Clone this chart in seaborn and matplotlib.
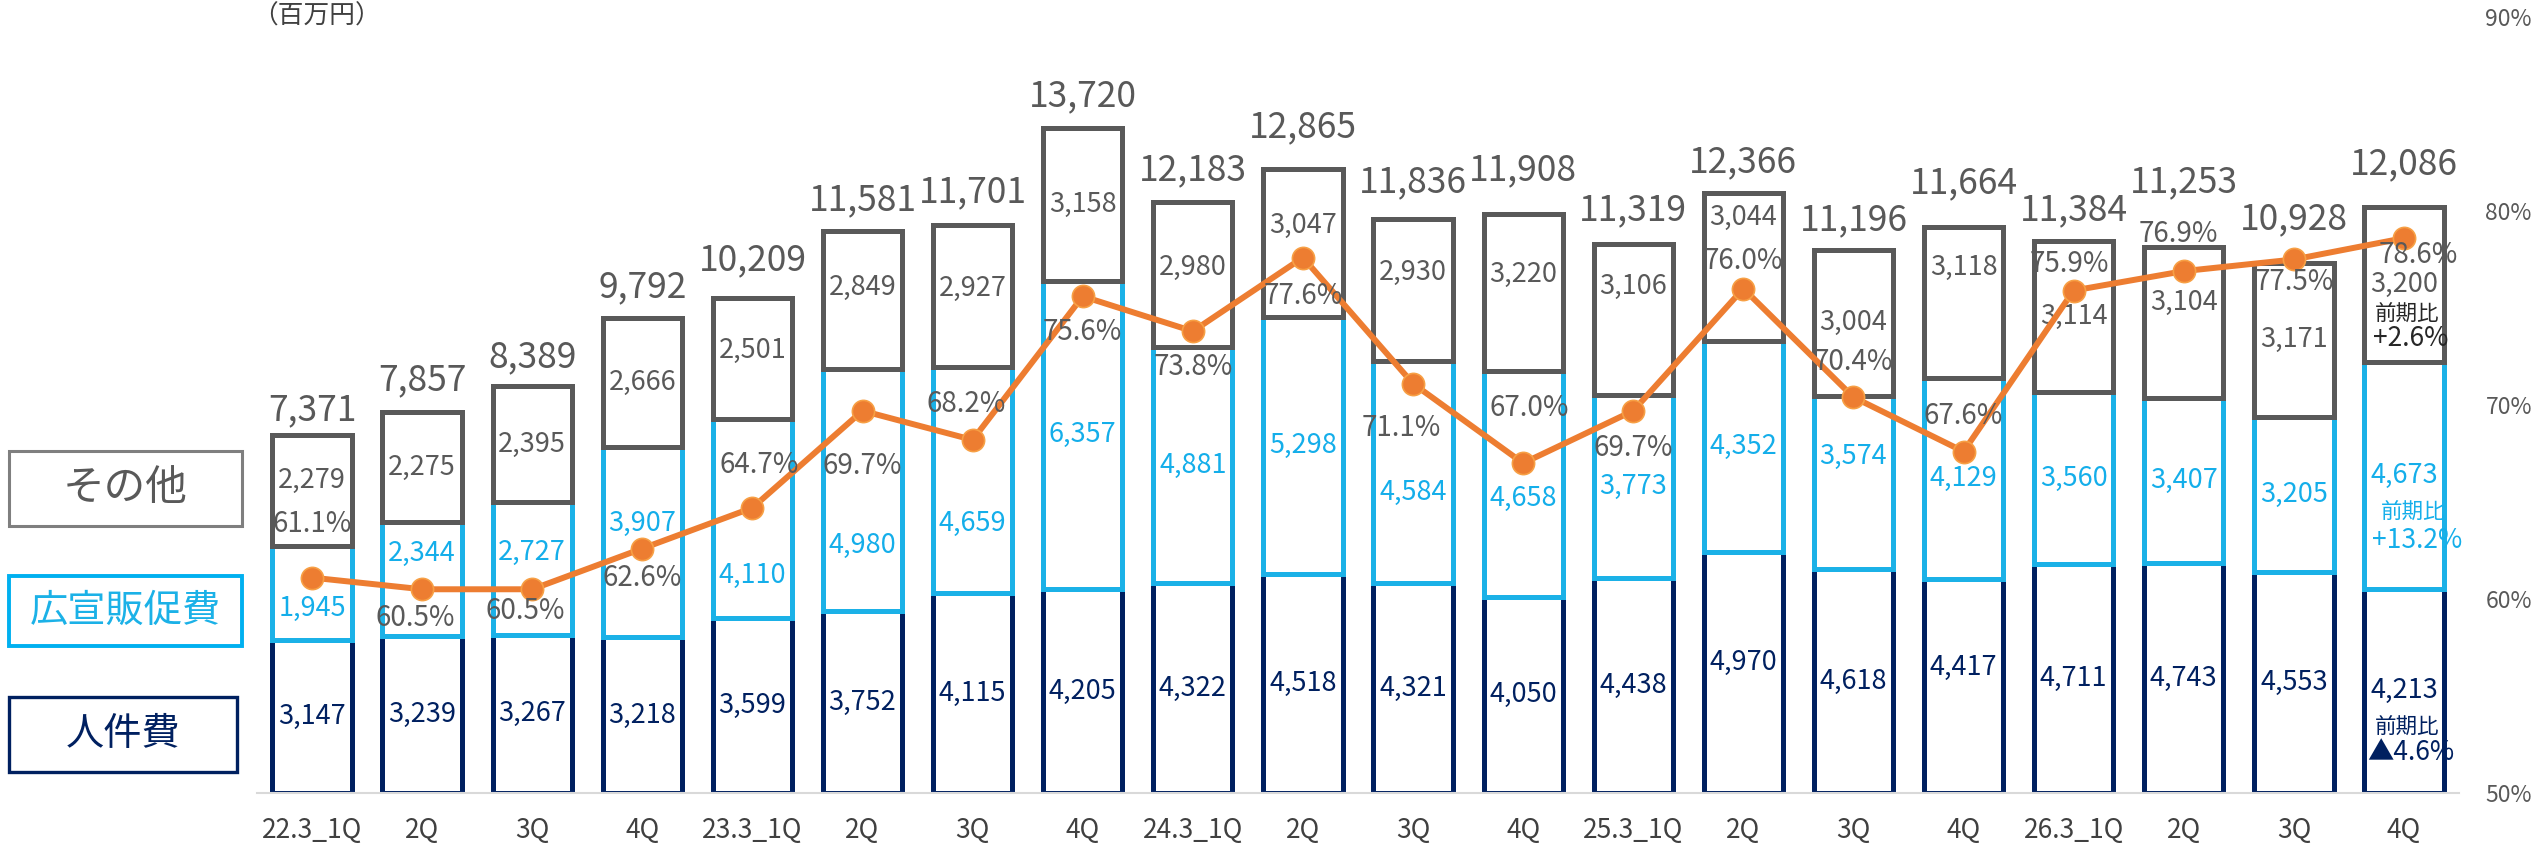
import numpy as np
import pandas as pd
import matplotlib
matplotlib.use("Agg")
import matplotlib.pyplot as plt
from matplotlib.patches import Rectangle
import seaborn as sns

# data (百万円)
periods = ["22.3_1Q", "22.3_2Q", "22.3_3Q", "22.3_4Q",
           "23.3_1Q", "23.3_2Q", "23.3_3Q", "23.3_4Q",
           "24.3_1Q", "24.3_2Q", "24.3_3Q", "24.3_4Q",
           "25.3_1Q", "25.3_2Q", "25.3_3Q", "25.3_4Q",
           "26.3_1Q", "26.3_2Q", "26.3_3Q", "26.3_4Q"]
tick_labels = ["22.3_1Q", "2Q", "3Q", "4Q", "23.3_1Q", "2Q", "3Q", "4Q",
               "24.3_1Q", "2Q", "3Q", "4Q", "25.3_1Q", "2Q", "3Q", "4Q",
               "26.3_1Q", "2Q", "3Q", "4Q"]
personnel = [3147, 3239, 3267, 3218, 3599, 3752, 4115, 4205, 4322, 4518,
             4321, 4050, 4438, 4970, 4618, 4417, 4711, 4743, 4553, 4213]
promotion = [1945, 2344, 2727, 3907, 4110, 4980, 4659, 6357, 4881, 5298,
             4584, 4658, 3773, 4352, 3574, 4129, 3560, 3407, 3205, 4673]
other = [2279, 2275, 2395, 2666, 2501, 2849, 2927, 3158, 2980, 3047,
         2930, 3220, 3106, 3044, 3004, 3118, 3114, 3104, 3171, 3200]
totals = [7371, 7857, 8389, 9792, 10209, 11581, 11701, 13720, 12183, 12865,
          11836, 11908, 11319, 12366, 11196, 11664, 11384, 11253, 10928, 12086]
ratio = [61.1, 60.5, 60.5, 62.6, 64.7, 69.7, 68.2, 75.6, 73.8, 77.6,
         71.1, 67.0, 69.7, 76.0, 70.4, 67.6, 75.9, 76.9, 77.5, 78.6]
legend_labels = ["その他", "広宣販促費", "人件費"]
note_head = "前期比"
note_values = ["+2.6%", "+13.2%", "▲4.6%"]   # other, promotion, personnel
unit_label = "（百万円）"

# label nudges in pixels (up positive)
navy_shift = [0] * 13 + [10, 0, 18] + [0] * 4
blue_shift = [-15, 26, 16, 19, -57, -55, -43, 0, 0, 0,
              -20, -15, 0, 0, 26, 0, 0, 0, 0, 0]
gray_shift = [10, 0, 0, 0, 8, 13, 8, 0, 7, 18,
              18, 18, 33, 50, 0, 35, 0, 20, 0, 0]
total_gap = [22, 29, 26, 28, 35, 28, 30, 28, 29, 39,
             34, 42, 31, 28, 27, 41, 28, 62, 41, 40]
pct_dy = [54, -29, -22, -29, 43, -55, 36, -36, -36, -38,
          -44, 55, -37, 28, 35, 36, 27, 37, -23, -17]
pct_dx = [0, -7, -7, 0, 7, 0, -6, 0, 0, 0,
          -12, 6, 0, 0, 0, 0, -4, -5, 0, 14]

NAVY = "#002060"
BLUE = "#1BB1E7"
BLUE_TXT = "#14AEEA"
GRAY = "#595959"
ORANGE = "#ED7D31"

sns.set_theme(style="white")
plt.rcParams["font.family"] = ["Noto Sans CJK JP", "DejaVu Sans"]

df = pd.DataFrame({"period": periods, "personnel": personnel,
                   "promotion": promotion, "other": other})
df["promo_bottom"] = df["personnel"]
df["other_bottom"] = df["personnel"] + df["promotion"]

fig = plt.figure(figsize=(25.39, 8.49), dpi=100)
ax = fig.add_axes([0.1012, 0.066, 0.8673, 0.914])

layers = [("personnel", None, NAVY), ("promotion", "promo_bottom", BLUE),
          ("other", "other_bottom", GRAY)]
for col, bcol, c in layers:
    bottom = df[bcol].to_numpy() if bcol else np.zeros(len(df))
    sns.barplot(data=df, x="period", y=col, order=periods, ax=ax,
                color="white", saturation=1, edgecolor=c, linewidth=3.6,
                width=0.72, errorbar=None, bottom=bottom)

x = np.arange(len(periods))
px = dict(textcoords="offset pixels", ha="center", va="center")
SEG = 19.5

# segment labels
for i in range(len(periods)):
    ax.annotate(f"{personnel[i]:,}", (i, personnel[i] / 2), xytext=(0, navy_shift[i]),
                color=NAVY, fontsize=SEG, **px)
    ax.annotate(f"{promotion[i]:,}", (i, personnel[i] + promotion[i] / 2),
                xytext=(0, blue_shift[i]), color=BLUE_TXT, fontsize=SEG, **px)
    ax.annotate(f"{other[i]:,}", (i, personnel[i] + promotion[i] + other[i] / 2),
                xytext=(0, gray_shift[i]), color=GRAY, fontsize=SEG, **px)
    ax.annotate(f"{totals[i]:,}", (i, totals[i]), xytext=(0, total_gap[i] + 3),
                color=GRAY, fontsize=25.5, **px)

# 前期比 notes on the last bar
last = len(periods) - 1
centers = [personnel[last] + promotion[last] + other[last] / 2,
           personnel[last] + promotion[last] / 2,
           personnel[last] / 2]
note_colors = ["#262626", BLUE_TXT, NAVY]
note_dx = [3, 9, 3]
note_off = [(-30, -54), (-38, -65), (-37, -62)]
for k in range(3):
    ax.annotate(note_head, (last, centers[k]), xytext=(note_dx[k], note_off[k][0]),
                color=note_colors[k], fontsize=15.5, **px)
    ax.annotate(note_values[k], (last, centers[k]), xytext=(note_dx[k] + 4, note_off[k][1]),
                color=note_colors[k], fontsize=19, **px)

ax.set_ylim(0, 16000)
ax.set_xlim(-0.5, len(periods) - 0.5)
ax.set_yticks([])
ax.set_xticks(x)
ax.set_xticklabels(tick_labels)
ax.set_xlabel("")
ax.set_ylabel("")
ax.tick_params(axis="x", length=0, pad=17, labelsize=19, labelcolor="#404040")
for s in ["top", "left", "right"]:
    ax.spines[s].set_visible(False)
ax.spines["bottom"].set_color("#D9D9D9")
ax.spines["bottom"].set_linewidth(1.5)

# cost ratio line
ax2 = ax.twinx()
sns.lineplot(x=x, y=ratio, ax=ax2, color=ORANGE, linewidth=4.3, marker="o",
             markersize=16, markeredgecolor="#F7A045", markeredgewidth=1.2)
for i in range(len(periods)):
    ax2.annotate(f"{ratio[i]:.1f}%", (i, ratio[i]), xytext=(pct_dx[i], pct_dy[i]),
                 color=GRAY, fontsize=20, **px)
ax2.set_ylim(50, 90)
ax2.set_yticks([50, 60, 70, 80, 90])
ax2.set_yticklabels([f"{v}%" for v in [50, 60, 70, 80, 90]])
ax2.tick_params(axis="y", length=0, pad=19, labelsize=16.5, labelcolor=GRAY)
for s in ax2.spines.values():
    s.set_visible(False)
ax.set_xlim(-0.5, len(periods) - 0.5)

# left-side legend boxes
W, H = 2539, 849
boxes = [(9, 451, 233, 75, "#7F7F7F", GRAY, 2.2, 30),
         (9, 576, 233, 70, "#00B0F0", BLUE, 2.8, 27.5),
         (9, 697, 228, 75, NAVY, NAVY, 2.4, 27.5)]
for (bx, by, bw, bh, ec, tc, lw, fs), lab in zip(boxes, legend_labels):
    fig.add_artist(Rectangle((bx / W, 1 - (by + bh) / H), bw / W, bh / H,
                             transform=fig.transFigure, facecolor="white",
                             edgecolor=ec, linewidth=lw))
    fig.text((bx + bw / 2) / W, 1 - (by + bh / 2) / H, lab, color=tc,
             fontsize=fs, ha="center", va="center")

fig.text(316 / W, 1 - 17 / H, unit_label, color="#404040", fontsize=18.5,
         ha="center", va="center")

fig.savefig("out.png", dpi=100)
